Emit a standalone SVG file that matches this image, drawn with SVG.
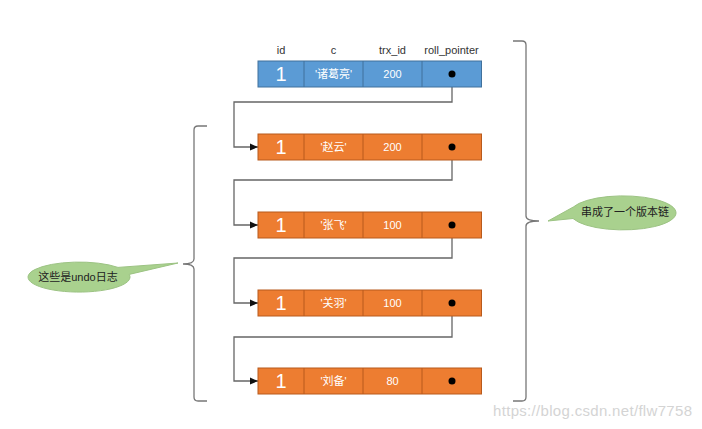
<svg xmlns="http://www.w3.org/2000/svg" width="702" height="429" viewBox="0 0 702 429">
<defs>
<style>
.hd{font-family:"Liberation Sans","Noto Sans CJK SC",sans-serif;font-size:11px;fill:#333;text-anchor:middle}
.one{font-family:"Liberation Sans",sans-serif;font-size:20px;fill:#fff;text-anchor:middle}
.ct{font-family:"Liberation Sans","Noto Sans CJK SC",sans-serif;font-size:11px;fill:#fff;text-anchor:middle}
.blue{fill:#5b9bd5;stroke:#41719c;stroke-width:1}
.orange{fill:#ed7d31;stroke:#b85a1c;stroke-width:1}
.sepb{stroke:#41719c;stroke-width:1}
.sepo{stroke:#b85a1c;stroke-width:1}
.conn{fill:none;stroke:#666;stroke-width:1.3}
.brace{fill:none;stroke:#777;stroke-width:1.3}
.bub{fill:#a9d18e;stroke:#9cc383;stroke-width:1}
.bt{font-family:"Liberation Sans","Noto Sans CJK SC",sans-serif;font-size:11px;fill:#222;text-anchor:middle}
.wm{font-family:"Liberation Sans",sans-serif;font-size:15px;fill:#d4d4d4}
</style>
<marker id="arr" markerWidth="8" markerHeight="8" refX="8" refY="4" orient="auto" markerUnits="userSpaceOnUse">
<path d="M0,0.5 L8,4 L0,7.5 Z" fill="#111"/>
</marker>
</defs>
<rect width="702" height="429" fill="#fff"/>

<g id="headers">
<text class="hd" x="281" y="54">id</text>
<text class="hd" x="333.5" y="54">c</text>
<text class="hd" x="392.5" y="54">trx_id</text>
<text class="hd" x="451.5" y="54">roll_pointer</text>
</g>

<g id="connectors">
<path class="conn" d="M452,74 V102 H234 V147 H258" marker-end="url(#arr)"/>
<path class="conn" d="M452,147 V180 H234 V225 H258" marker-end="url(#arr)"/>
<path class="conn" d="M452,225 V258 H234 V303 H258" marker-end="url(#arr)"/>
<path class="conn" d="M452,303 V337 H234 V381 H258" marker-end="url(#arr)"/>
</g>

<g id="row0">
<rect class="blue" x="258" y="61" width="223.5" height="26"/>
<line class="sepb" x1="304" y1="61" x2="304" y2="87"/>
<line class="sepb" x1="363" y1="61" x2="363" y2="87"/>
<line class="sepb" x1="422" y1="61" x2="422" y2="87"/>
<text class="one" x="281" y="81">1</text>
<text class="ct" x="333.5" y="78">'诸葛亮'</text>
<text class="ct" x="392.5" y="78">200</text>
<circle cx="452" cy="74" r="3.5" fill="#000"/>
</g>

<g id="row1">
<rect class="orange" x="258" y="134" width="223.5" height="26"/>
<line class="sepo" x1="304" y1="134" x2="304" y2="160"/>
<line class="sepo" x1="363" y1="134" x2="363" y2="160"/>
<line class="sepo" x1="422" y1="134" x2="422" y2="160"/>
<text class="one" x="281" y="154">1</text>
<text class="ct" x="333.5" y="151">'赵云'</text>
<text class="ct" x="392.5" y="151">200</text>
<circle cx="452" cy="147" r="3.5" fill="#000"/>
</g>

<g id="row2">
<rect class="orange" x="258" y="212" width="223.5" height="26"/>
<line class="sepo" x1="304" y1="212" x2="304" y2="238"/>
<line class="sepo" x1="363" y1="212" x2="363" y2="238"/>
<line class="sepo" x1="422" y1="212" x2="422" y2="238"/>
<text class="one" x="281" y="232">1</text>
<text class="ct" x="333.5" y="229">'张飞'</text>
<text class="ct" x="392.5" y="229">100</text>
<circle cx="452" cy="225" r="3.5" fill="#000"/>
</g>

<g id="row3">
<rect class="orange" x="258" y="290" width="223.5" height="26"/>
<line class="sepo" x1="304" y1="290" x2="304" y2="316"/>
<line class="sepo" x1="363" y1="290" x2="363" y2="316"/>
<line class="sepo" x1="422" y1="290" x2="422" y2="316"/>
<text class="one" x="281" y="310">1</text>
<text class="ct" x="333.5" y="307">'关羽'</text>
<text class="ct" x="392.5" y="307">100</text>
<circle cx="452" cy="303" r="3.5" fill="#000"/>
</g>

<g id="row4">
<rect class="orange" x="258" y="368" width="223.5" height="26"/>
<line class="sepo" x1="304" y1="368" x2="304" y2="394"/>
<line class="sepo" x1="363" y1="368" x2="363" y2="394"/>
<line class="sepo" x1="422" y1="368" x2="422" y2="394"/>
<text class="one" x="281" y="388">1</text>
<text class="ct" x="333.5" y="385">'刘备'</text>
<text class="ct" x="392.5" y="385">80</text>
<circle cx="452" cy="381" r="3.5" fill="#000"/>
</g>

<g id="brace-left">
<path class="brace" d="M207,126 L198,126 Q194,126 194,130 L194,259 Q194,264 183,264 Q194,264 194,269 L194,397 Q194,401 198,401 L207,401"/>
</g>

<g id="brace-right">
<path class="brace" d="M513,41 L522,41 Q526,41 526,45 L526,216 Q526,221 539,221 Q526,221 526,226 L526,397 Q526,401 522,401 L513,401"/>
</g>

<g id="callout-left">
<path class="bub" d="M118,267.4 L178,263 L129.2,274.4 A51,15 0 1,1 118,267.4 Z"/>
<text class="bt" x="78" y="281">这些是undo日志</text>
</g>

<g id="callout-right">
<path class="bub" d="M573.3,207 L548,221 L573,218.5 A53,17 0 1,0 573.3,207 Z"/>
<text class="bt" x="625" y="216">串成了一个版本链</text>
</g>

<text class="wm" x="493" y="416" textLength="199">https://blog.csdn.net/flw7758</text>
</svg>
